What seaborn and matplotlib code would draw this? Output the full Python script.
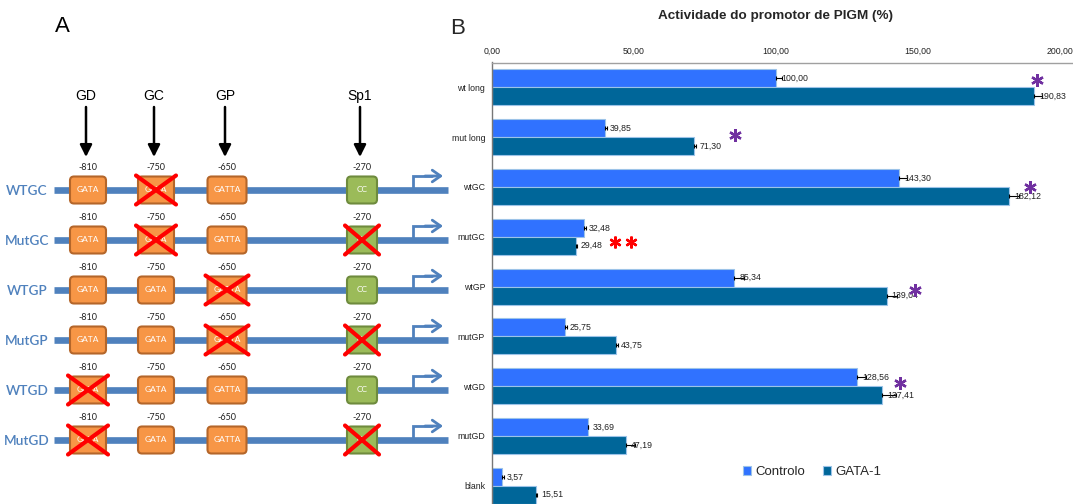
import matplotlib
matplotlib.use("Agg")
import matplotlib.pyplot as plt
from matplotlib.patches import FancyBboxPatch
import numpy as np
import pandas as pd
import seaborn as sns

# ---------------- data ----------------
constructs = ["wt long", "mut long", "wtGC", "mutGC", "wtGP", "mutGP", "wtGD", "mutGD", "blank"]
controlo = [100.00, 39.85, 143.30, 32.48, 85.34, 25.75, 128.56, 33.69, 3.57]
gata1 = [190.83, 71.30, 182.12, 29.48, 139.04, 43.75, 137.41, 47.19, 15.51]
controlo_err = [2.0, 0.5, 3.0, 0.5, 3.5, 0.5, 3.0, 0.0, 0.5]
gata1_err = [3.0, 0.5, 3.5, 0.5, 3.5, 0.5, 5.0, 3.0, 0.5]
series_names = ["Controlo", "GATA-1"]
x_ticks = [0, 50, 100, 150, 200]

# promoter schematic
site_names = ["GD", "GC", "GP", "Sp1"]
site_coords = ["-810", "-750", "-650", "-270"]
site_motifs = ["GATA", "GATA", "GATTA", "CC"]
reporter_names = ["WTGC", "MutGC", "WTGP", "MutGP", "WTGD", "MutGD"]
mutated_sites = [["GC"], ["GC", "Sp1"], ["GP"], ["GP", "Sp1"], ["GD"], ["GD", "Sp1"]]

# ---------------- style ----------------
sns.set_theme(style="white")
plt.rcParams["font.family"] = ["Liberation Sans", "DejaVu Sans"]

W, H = 1073, 504
fig = plt.figure(figsize=(W / 100, H / 100), dpi=100)

# ================= panel A: promoter constructs =================
axA = fig.add_axes([0, 0, 450 / W, 1])
axA.set_xlim(0, 450)
axA.set_ylim(H, 0)
axA.axis("off")

blue = "#4F81BD"
orange, orange_edge = "#F79646", "#B4662A"
green, green_edge = "#9BBB59", "#6E8B3D"

site_x = [88, 156, 227, 362]
box_w = {"GATA": 36, "GATTA": 39, "CC": 30}
box_h = 27
row_y0, row_step = 190, 50

axA.text(62, 27, "A", fontsize=16, ha="center", va="center", color="black")

for name, x in zip(site_names, site_x):
    axA.text(x - 2, 96, name, fontsize=10, ha="center", va="center", color="black")
    axA.annotate("", xy=(x - 2, 157), xytext=(x - 2, 107),
                 arrowprops=dict(arrowstyle="-|>,head_length=0.6,head_width=0.3",
                                 lw=1.8, color="black", shrinkA=0, shrinkB=0))

for i, (rname, muts) in enumerate(zip(reporter_names, mutated_sites)):
    y = row_y0 + i * row_step
    axA.text(27, y + 1, rname, fontsize=9.8, ha="center", va="center", color=blue,
             family=["Lato", "DejaVu Sans"], fontweight="semibold")
    axA.plot([54, 448], [y, y], color=blue, lw=4.8, solid_capstyle="butt", zorder=1)
    for name, coord, motif, x in zip(site_names, site_coords, site_motifs, site_x):
        bw = box_w[motif]
        fc, ec = (green, green_edge) if motif == "CC" else (orange, orange_edge)
        box = FancyBboxPatch((x - bw / 2, y - box_h / 2), bw, box_h,
                             boxstyle="round,pad=0,rounding_size=4",
                             fc=fc, ec=ec, lw=1.5, zorder=2)
        axA.add_patch(box)
        axA.text(x, y, motif, fontsize=6, ha="center", va="center", color="white",
                 zorder=3, family=["Lato", "DejaVu Sans"])
        axA.text(x, y - 23, coord, fontsize=6.5, ha="center", va="center", color="#222222",
                 family=["Lato", "DejaVu Sans"])
        if name in muts:
            x0, x1 = x - bw / 2 - 2, x + bw / 2 + 2
            y0, y1 = y - box_h / 2 - 1, y + box_h / 2 + 1
            axA.plot([x0, x1], [y0, y1], color="#FF0000", lw=3, zorder=4)
            axA.plot([x0, x1], [y1, y0], color="#FF0000", lw=3, zorder=4)
    # transcription start arrow
    axA.plot([384, 413, 413, 432], [y + 1, y + 1, y - 14, y - 14],
             color=blue, lw=2, zorder=3, solid_joinstyle="miter")
    axA.annotate("", xy=(443, y - 14), xytext=(425, y - 14),
                 arrowprops=dict(arrowstyle="->,head_length=0.5,head_width=0.35",
                                 lw=2, color=blue, shrinkA=0, shrinkB=0))

# ================= panel B: promoter activity =================
left_px, top_px = 492, 62.5
axB = fig.add_axes([left_px / W, 0, (W - left_px) / W, (H - top_px) / H])

df = pd.DataFrame({
    "construct": constructs * 2,
    "value": controlo + gata1,
    "series": [series_names[0]] * len(constructs) + [series_names[1]] * len(constructs),
})
palette = {"Controlo": "#3072FF", "GATA-1": "#006699"}
sns.barplot(data=df, y="construct", x="value", hue="series", orient="h",
            palette=palette, width=0.72, errorbar=None, ax=axB,
            edgecolor="#9CC3E8", linewidth=0.8, saturation=1)

px_per_unit = (1060 - left_px) / 200
cat_px = 49.8
axB.set_xlim(0, (W - left_px) / px_per_unit)
axB.set_ylim(-0.5 + (H - top_px) / cat_px, -0.5)

for cont, vals, errs in zip(axB.containers, [controlo, gata1], [controlo_err, gata1_err]):
    ys = [p.get_y() + p.get_height() / 2 for p in cont.patches]
    axB.errorbar(vals, ys, xerr=[np.zeros(len(errs)), errs], fmt="none",
                 ecolor="black", elinewidth=0.8, capsize=1.6, capthick=0.8, zorder=4)
    axB.bar_label(cont, labels=[f"{v:.2f}".replace(".", ",") for v in vals],
                  padding=3.5, fontsize=6.3, color="#222222", zorder=5)

# significance marks
star_cats = ["wt long", "mut long", "wtGC", "wtGP", "wtGD"]
star_x = [192, 85.6, 189.4, 149, 143.7]
star_dy = [-0.14, -0.05, 0.0, 0.06, -0.07]
for c, sx, dy in zip(star_cats, star_x, star_dy):
    axB.plot(sx, constructs.index(c) + dy, marker=(6, 2, 0), ms=9, mew=1.7,
             color="#7030A0", ls="none", zorder=6, clip_on=False)
red_i = constructs.index("mutGC")
axB.plot([43.3, 48.9], [red_i + 0.1, red_i + 0.1], marker=(6, 2, 0), ms=8.5, mew=1.7,
         color="#FF0000", ls="none", zorder=6)

axB.set_xticks(x_ticks)
axB.set_xticklabels([f"{t:.2f}".replace(".", ",") for t in x_ticks])
axB.xaxis.set_ticks_position("top")
axB.tick_params(axis="x", top=False, bottom=False, labeltop=True, labelbottom=False,
                length=0, labelsize=6.3, pad=5, colors="#222222")
axB.tick_params(axis="y", left=False, length=0, labelsize=6.3, pad=5, colors="#222222")
axB.set_xlabel("")
axB.set_ylabel("")
for s in ["right", "bottom"]:
    axB.spines[s].set_visible(False)
axB.spines["left"].set_color("#777777")
axB.spines["top"].set_color("#A0A0A0")
for s in ["left", "top"]:
    axB.spines[s].set_linewidth(1.0)

axB.legend(loc="center", bbox_to_anchor=(812 / W, 1 - 472 / H),
           bbox_transform=fig.transFigure, ncol=2, frameon=False,
           fontsize=9.5, handlelength=0.6, handleheight=0.7, handletextpad=0.3,
           columnspacing=1.4)

fig.text(776 / W, 1 - 16 / H, "Actividade do promotor de PIGM (%)", fontsize=9.7,
         fontweight="bold", ha="center", va="center")
fig.text(458 / W, 1 - 28 / H, "B", fontsize=16, ha="center", va="center")

fig.savefig("out.png", dpi=100)
